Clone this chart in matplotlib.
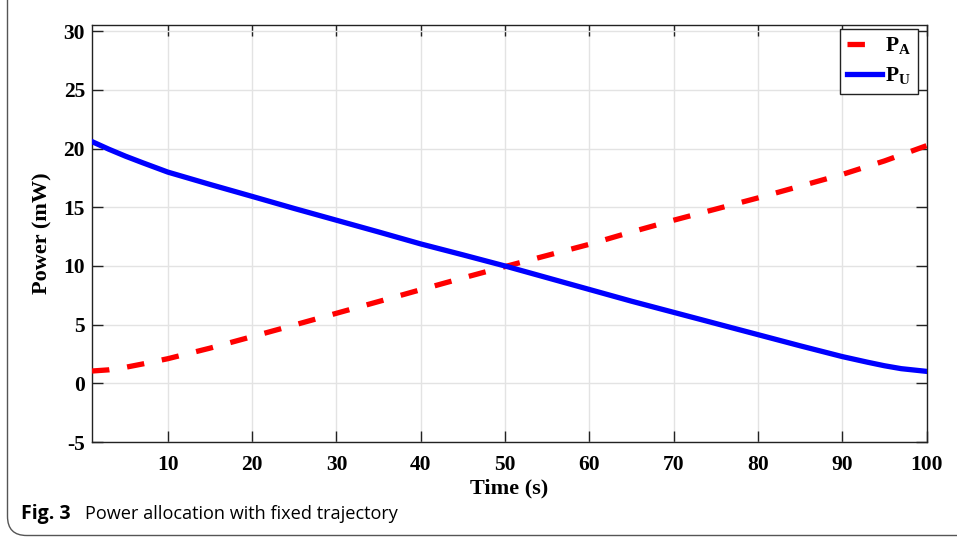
import matplotlib
matplotlib.use("Agg")
import matplotlib.pyplot as plt
from matplotlib.patches import FancyBboxPatch
from matplotlib.lines import Line2D

# ---- data ----
time_u = [1, 3, 5, 7, 10, 15, 20, 25, 30, 35, 40, 45, 50, 55, 60, 65, 70, 75, 80, 85, 90, 93, 95, 97, 100]
power_u = [20.6, 19.95, 19.35, 18.8, 18.0, 16.95, 15.93, 14.9, 13.9, 12.9, 11.88, 10.95, 10.0, 9.0, 8.0,
           7.0, 6.05, 5.1, 4.15, 3.2, 2.28, 1.8, 1.5, 1.25, 1.02]
time_a = [1, 3, 5, 7, 10, 15, 20, 25, 30, 35, 40, 45, 50, 55, 60, 65, 70, 75, 80, 85, 90, 95, 100]
power_a = [1.05, 1.15, 1.37, 1.65, 2.1, 3.0, 3.98, 4.97, 5.97, 6.97, 7.98, 8.98, 9.95, 10.9, 11.85,
           12.9, 13.9, 14.85, 15.8, 16.8, 17.8, 18.95, 20.25]
xticks = [10, 20, 30, 40, 50, 60, 70, 80, 90, 100]
yticks = [-5, 0, 5, 10, 15, 20, 25, 30]
labels = ["P$_\\mathregular{A}$", "P$_\\mathregular{U}$"]

W, H = 957, 541
fig = plt.figure(figsize=(W / 100, H / 100), dpi=100)

serif = ["Liberation Serif", "DejaVu Serif"]

# rounded border frame
box = FancyBboxPatch((7.5 / W, 5.5 / H), (W + 20) / W, (H + 20) / H,
                     boxstyle="round,pad=0,rounding_size=0.02",
                     transform=fig.transFigure, fill=False, edgecolor="#555555",
                     linewidth=1.0, mutation_aspect=W / H)
fig.patches.append(box)

ax = fig.add_axes([92 / W, 1 - 442 / H, (926.5 - 92) / W, (442 - 24.5) / H])

ax.plot(time_a, power_a, color="#ff0000", lw=3.8, dashes=(3.3, 3.4), solid_capstyle="butt",
        dash_capstyle="butt", zorder=3)
ax.plot(time_u, power_u, color="#0000ff", lw=3.8, zorder=4)

ax.set_xlim(1, 100)
ax.set_ylim(-5, 30.58)
ax.set_xticks(xticks)
ax.set_yticks(yticks)
ax.set_xticklabels([str(v) for v in xticks])
ax.set_yticklabels([str(v) for v in yticks])
ax.grid(True, color="#e3e3e3", lw=1.0)
ax.set_axisbelow(True)
ax.tick_params(direction="in", length=8, width=1, top=True, right=True, colors="#222222",
               labelcolor="black", pad=5)
ax.tick_params(axis="x", pad=9)
for lab in ax.get_xticklabels() + ax.get_yticklabels():
    lab.set_fontfamily(serif)
    lab.set_fontweight("bold")
    lab.set_fontsize(15.5)
for s in ax.spines.values():
    s.set_color("#222222")
    s.set_linewidth(1.0)

ax.set_xlabel("Time (s)", fontfamily=serif, fontweight="bold", fontsize=16, labelpad=3)
ax.set_ylabel("Power (mW)", fontfamily=serif, fontweight="bold", fontsize=16, labelpad=8)

handles = [Line2D([], [], color="#ff0000", lw=3.8, dashes=(3.3, 3.4)),
           Line2D([], [], color="#0000ff", lw=3.8)]
leg = ax.legend(handles, labels, loc="upper right", bbox_to_anchor=(917.5 / W, 1 - 29 / H),
                bbox_transform=fig.transFigure, frameon=True, fancybox=False, borderaxespad=0,
                edgecolor="#222222", framealpha=1, handlelength=1.65, handletextpad=0.12,
                borderpad=0.3, labelspacing=0.4, prop={"family": serif, "weight": "bold", "size": 15.5})
leg.get_frame().set_linewidth(1.0)

fig.text(21 / W, 1 - 519 / H, "Fig. 3", fontfamily="Open Sans", fontweight="bold",
         fontsize=14, va="baseline", ha="left")
fig.text(85 / W, 1 - 519 / H, "Power allocation with fixed trajectory", fontfamily="Open Sans",
         fontsize=13.1, va="baseline", ha="left")

fig.savefig("out.png", dpi=100)
